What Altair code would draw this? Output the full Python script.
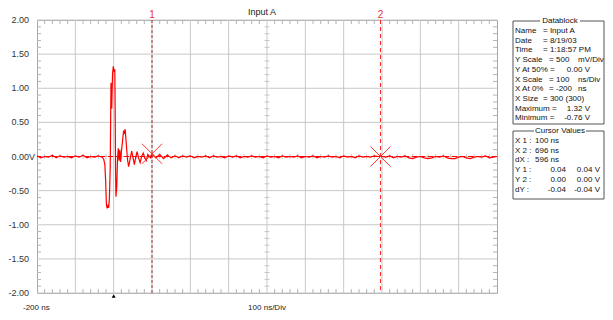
import altair as alt
import pandas as pd

# ---------------- data ----------------
# trace samples (time in ns, voltage in V)
pre_t = list(range(-200, -30, 10))
pre_v = [0.01, -0.02, 0.00, -0.01, 0.02, -0.02, 0.01, -0.01, 0.00, -0.02,
         0.01, -0.01, 0.02, -0.02, 0.00, -0.01, 0.01]

spike_t = [-30, -26, -23, -21, -19, -17, -15, -13, -11, -9,
           -7, -5, -3, -1, 1, 3, 4, 5, 6, 8,
           10, 12, 14, 16, 18, 20, 23, 26, 28, 30,
           33, 36, 39, 43, 47, 51, 54, 58, 61, 65,
           69, 73, 77, 81, 85, 89, 93, 97]
spike_v = [-0.01, -0.04, -0.12, -0.35, -0.70, -0.76, -0.72, -0.75, -0.60, -0.15,
           1.08, 0.70, 1.20, 1.32, 1.24, 1.28, 0.60, -0.20, -0.59, -0.45,
           -0.05, 0.12, -0.06, 0.10, -0.08, 0.06, 0.22, 0.38, 0.33, 0.40,
           0.18, -0.04, -0.15, -0.04, 0.08, -0.03, -0.12, 0.00, 0.07, -0.02,
           -0.09, 0.00, 0.05, -0.02, -0.06, 0.03, 0.00, -0.02]

post_t = list(range(100, 1001, 10))
post_v = [0.04, -0.02, 0.03, -0.03, 0.02, -0.02, 0.01, -0.02, 0.01, -0.01,
          0.01, -0.02, 0.00, -0.01, 0.01, -0.02, 0.01, -0.01, 0.00, -0.02,
          0.01, -0.01, 0.01, -0.02, 0.00, -0.01, 0.01, -0.01, 0.00, -0.02,
          0.01, -0.01, 0.00, -0.02, 0.01, -0.01, 0.00, -0.01, 0.01, -0.02,
          0.00, -0.01, 0.01, -0.02, 0.00, -0.01, 0.01, -0.01, 0.00, -0.02,
          0.01, -0.01, 0.00, -0.02, 0.01, -0.01, 0.00, -0.01, 0.01, 0.00,
          0.00, -0.01, 0.01, -0.02, 0.00, -0.01, 0.01, -0.02, -0.03, -0.01,
          0.00, -0.02, -0.03, -0.02, 0.00, -0.01, 0.01, -0.02, -0.03, -0.03,
          -0.01, 0.00, -0.02, -0.03, -0.01, 0.00, -0.01, 0.01, -0.02, -0.01,
          0.00]

cursor_t = [100, 696]
cursor_v = [0.04, 0.00]
cursor_names = ["1", "2"]
trigger_t = [0]

y_tick_values = [2.0, 1.5, 1.0, 0.5, 0.0, -0.5, -1.0, -1.5, -2.0]
y_tick_labels = ["2.00", "1.50", "1.00", "0.50", "0.00", "-0.50", "-1.00", "-1.50", "-2.00"]
x_grid_values = [-100, 0, 100, 200, 300, 400, 500, 600, 700, 800, 900]

title_text = "Input A"
x_left_label = "-200 ns"
x_div_label = "100 ns/Div"

db_names = ["Name", "Date", "Time", "Y Scale", "Y At 50%", "X Scale",
            "X At 0%", "X Size", "Maximum", "Minimum"]
db_values = ["Input A", "8/19/03", "1:18:57 PM", "500", "0.00 V", "100",
             "-200", "300 (300)", "1.32 V", "-0.76 V"]
db_units = ["", "", "", "mV/Div", "", "ns/Div", "ns", "", "", ""]

cv_names = ["X 1 :", "X 2 :", "dX :", "Y 1 :", "Y 2 :", "dY :"]
cv_a = ["100 ns", "696 ns", "596 ns", "0.04", "0.00", "-0.04"]
cv_b = ["", "", "", "0.04 V", "0.00 V", "-0.04 V"]

# ---------------- layout / style ----------------
W, H = 460, 273
PX0, PY0 = 37, 20          # page position of plot origin
FONT = "Liberation Sans"
TICKC = "#b4b4b4"
GRIDC = "#c8c8c8"
RED = "#ff0000"
LABX = -8                  # right edge of the y labels (plot coords)

def px(page_x):
    return page_x - PX0

def py(page_y):
    return page_y - PY0

xs = alt.Scale(domain=[-200, 1000], nice=False, zero=False)
ys = alt.Scale(domain=[-2, 2], nice=False, zero=False)

trace_df = pd.DataFrame({"t": pre_t + spike_t + post_t,
                         "v": pre_v + spike_v + post_v})
one = pd.DataFrame({"k": [0]})

minor_t = [t for t in range(-200, 1001, 20) if t % 100 != 0]
minor_v = [i / 10 for i in range(-20, 21) if i % 5 != 0]
mt_df = pd.DataFrame({"t": minor_t})
mv_df = pd.DataFrame({"v": minor_v})
ygrid_df = pd.DataFrame({"v": y_tick_values, "lab": y_tick_labels})
xgrid_df = pd.DataFrame({"t": x_grid_values})


def xq():
    return alt.X("t:Q", scale=xs, axis=None)

def yq():
    return alt.Y("v:Q", scale=ys, axis=None)

def xd(val):
    return alt.XDatum(val, scale=xs, axis=None)

def yd(val):
    return alt.YDatum(val, scale=ys, axis=None)

xgrid = alt.Chart(xgrid_df).mark_rule(color=GRIDC, strokeWidth=1).encode(x=xq())
ygrid = alt.Chart(ygrid_df).mark_rule(color=GRIDC, strokeWidth=1).encode(y=yq())
ylabels = alt.Chart(ygrid_df).mark_text(
    align="right", baseline="middle", font=FONT, fontSize=9, color="#333333").encode(
    x=alt.value(LABX), y=yq(), text="lab:N")

top_ticks = alt.Chart(mt_df).mark_rule(color=TICKC).encode(
    x=xq(), y=alt.value(0), y2=alt.value(4))
bot_ticks = alt.Chart(mt_df).mark_rule(color=TICKC).encode(
    x=xq(), y=alt.value(H - 4), y2=alt.value(H))
left_ticks = alt.Chart(mv_df).mark_rule(color=TICKC).encode(
    y=yq(), x=alt.value(0), x2=alt.value(4))
right_ticks = alt.Chart(mv_df).mark_rule(color=TICKC).encode(
    y=yq(), x=alt.value(W - 4), x2=alt.value(W))
hc_ticks = alt.Chart(mt_df).mark_tick(color=TICKC, orient="vertical", size=5, thickness=1).encode(
    x=xq(), y=yd(0))
vc_ticks = alt.Chart(mv_df).mark_tick(color=TICKC, orient="horizontal", size=5, thickness=1).encode(
    y=yq(), x=xd(400))

zero_line = alt.Chart(one).mark_rule(color=RED, strokeDash=[5, 3], strokeWidth=1).encode(
    y=yd(0))

cur1 = alt.Chart(one).mark_rule(color="#a03030", strokeDash=[3, 2], strokeWidth=1).encode(
    x=xd(cursor_t[0]))
cur2 = alt.Chart(one).mark_rule(color="#ff2020", strokeDash=[4, 3], strokeWidth=1).encode(
    x=xd(cursor_t[1]))

cur_df = pd.DataFrame({"t": cursor_t, "v": cursor_v, "name": cursor_names})
cur_labels = alt.Chart(cur_df).mark_text(color="#e83030", font=FONT, fontSize=10).encode(
    x=xq(), y=alt.value(-5), text="name:N")

trace = alt.Chart(trace_df).mark_line(color=RED, strokeWidth=1.2, clip=True).encode(
    x=xq(), y=yq())

markers = alt.Chart(cur_df).mark_point(
    shape="M-1,-1L1,1M-1,1L1,-1", size=400, filled=False, color="#ff3030",
    strokeWidth=1, opacity=1).encode(x=xq(), y=yq())

trig = alt.Chart(pd.DataFrame({"t": trigger_t})).mark_point(
    shape="triangle-up", filled=True, color="black", size=16, opacity=1).encode(
    x=xq(), y=alt.value(H + 3))

v_suffix = alt.Chart(one).mark_text(
    align="left", baseline="middle", font=FONT, fontSize=9, color="#333333").encode(
    x=alt.value(LABX), y=yd(0), text=alt.value("V"))

title = alt.Chart(one).mark_text(font=FONT, fontSize=9, color="#222222").encode(
    x=alt.value(px(262)), y=alt.value(py(12)), text=alt.value(title_text))
xl1 = alt.Chart(one).mark_text(align="left", font=FONT, fontSize=8, color="#222222").encode(
    x=alt.value(px(23)), y=alt.value(py(308)), text=alt.value(x_left_label))
xl2 = alt.Chart(one).mark_text(align="center", font=FONT, fontSize=8, color="#222222").encode(
    x=alt.value(px(267)), y=alt.value(py(308)), text=alt.value(x_div_label))

# ---------------- info panel ----------------
BX0, BX1 = 513, 604
ROW = 9.7
db_top, db_bot = 21, 124
cv_top, cv_bot = 131, 199

left_rows, right_rows = [], []
for i, (n, v, u) in enumerate(zip(db_names, db_values, db_units)):
    yy = py(31 + i * ROW)
    if u:
        left_rows += [(n, px(515), yy), ("=", px(549), yy), (v, px(556), yy), (u, px(578), yy)]
    elif v.endswith(" V"):
        left_rows += [(n + " =", px(515), yy)]
        right_rows += [(v, px(590), yy)]
    else:
        left_rows += [(n, px(515), yy), ("= " + v, px(543), yy)]
for i, (n, a, b) in enumerate(zip(cv_names, cv_a, cv_b)):
    yy = py(141 + i * ROW)
    left_rows += [(n, px(515), yy)]
    if b:
        right_rows += [(a, px(566), yy), (b, px(600), yy)]
    else:
        left_rows += [(a, px(535), yy)]

lr_df = pd.DataFrame(left_rows, columns=["text", "x", "y"])
rr_df = pd.DataFrame(right_rows, columns=["text", "x", "y"])

def pos_enc():
    return dict(x=alt.X("x:Q", scale=None, axis=None), y=alt.Y("y:Q", scale=None, axis=None), text="text:N")

left_text = alt.Chart(lr_df).mark_text(align="left", font=FONT, fontSize=8, color="#111111").encode(**pos_enc())
right_text = alt.Chart(rr_df).mark_text(align="right", font=FONT, fontSize=8, color="#111111").encode(**pos_enc())

def box(y0, y1, label, cx, half):
    frame = alt.Chart(one).mark_rect(filled=False, stroke="#555555", strokeWidth=1).encode(
        x=alt.value(px(BX0)), x2=alt.value(px(BX1)), y=alt.value(py(y0)), y2=alt.value(py(y1)))
    gap = alt.Chart(one).mark_rect(color="white").encode(
        x=alt.value(px(cx - half)), x2=alt.value(px(cx + half)), y=alt.value(py(y0) - 2), y2=alt.value(py(y0) + 2))
    txt = alt.Chart(one).mark_text(font=FONT, fontSize=8, color="#111111").encode(
        x=alt.value(px(cx)), y=alt.value(py(y0)), text=alt.value(label))
    return [frame, gap, txt]

panel = box(db_top, db_bot, "Datablock", 560, 20) + box(cv_top, cv_bot, "Cursor Values", 560, 26)

chart = alt.layer(
    xgrid, ygrid, top_ticks, bot_ticks, left_ticks, right_ticks, hc_ticks, vc_ticks,
    zero_line, cur1, cur2, trace, markers, cur_labels, trig, ylabels, v_suffix,
    title, xl1, xl2, *panel, left_text, right_text
).properties(
    width=W, height=H,
    autosize=alt.AutoSizeParams(type="none"),
    padding={"left": 29, "top": 12, "right": 108, "bottom": 19},
).configure_view(stroke="#a8a8a8")

chart.save("out.html", embed_options={"renderer": "svg", "actions": False})
